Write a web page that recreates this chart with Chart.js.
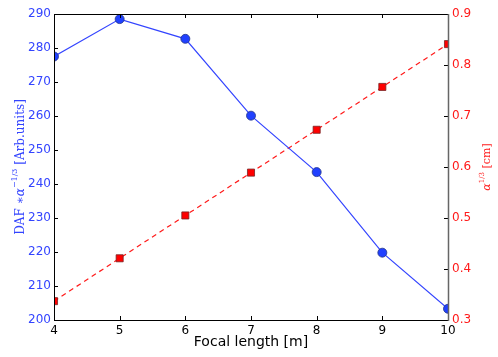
<!DOCTYPE html>
<html>
<head>
<meta charset="utf-8">
<script src="https://cdn.jsdelivr.net/npm/chart.js@4/dist/chart.umd.min.js"></script>
<style>
  html, body { margin: 0; padding: 0; background: #fff; }
  #wrap { width: 498px; height: 357px; }
</style>
</head>
<body>
<div id="wrap"><canvas id="chart" width="498" height="357"></canvas></div>
<script>
// values
const focalLengths = [4, 5, 6, 7, 8, 9, 10];
const dafValues = [277.5, 288.5, 282.7, 260.1, 243.5, 219.8, 203.3];
const alphaValues = [0.337, 0.421, 0.505, 0.589, 0.673, 0.757, 0.841];

const BLUE = "#3344ff";
const RED = "#ff1a1a";

// draws inward ticks, the frame and the axis titles (with superscripts)
const decor = {
  id: "decor",
  afterDraw(chart) {
    const ctx = chart.ctx;
    const a = chart.chartArea;
    const sx = chart.scales.x, sy = chart.scales.y, sy1 = chart.scales.y1;
    ctx.save();
    ctx.lineWidth = 1;
    ctx.strokeStyle = "#000";
    sx.ticks.forEach((t) => {
      const x = Math.round(sx.getPixelForValue(t.value)) + 0.5;
      ctx.beginPath();
      ctx.moveTo(x, a.bottom); ctx.lineTo(x, a.bottom - 4);
      ctx.moveTo(x, a.top); ctx.lineTo(x, a.top + 4);
      ctx.stroke();
    });
    sy.ticks.forEach((t) => {
      const y = Math.round(sy.getPixelForValue(t.value)) + 0.5;
      ctx.beginPath();
      ctx.moveTo(a.left, y); ctx.lineTo(a.left + 4, y);
      ctx.stroke();
    });
    sy1.ticks.forEach((t) => {
      const y = Math.round(sy1.getPixelForValue(t.value)) + 0.5;
      ctx.beginPath();
      ctx.moveTo(a.right, y); ctx.lineTo(a.right - 4, y);
      ctx.stroke();
    });
    // frame
    ctx.strokeStyle = "#000";
    ctx.beginPath();
    ctx.moveTo(a.left + 0.5, a.bottom + 0.5);
    ctx.lineTo(a.left + 0.5, a.top + 0.5);
    ctx.lineTo(a.right, a.top + 0.5);
    ctx.moveTo(a.left, a.bottom + 0.5);
    ctx.lineTo(a.right, a.bottom + 0.5);
    ctx.stroke();
    ctx.strokeStyle = "#666";
    ctx.lineWidth = 1.5;
    ctx.beginPath();
    ctx.moveTo(a.right + 0.5, a.top);
    ctx.lineTo(a.right + 0.5, a.bottom + 1);
    ctx.stroke();

    // axis titles
    const midY = (a.top + a.bottom) / 2;
    function drawParts(parts, color) {
      let w = 0;
      parts.forEach((p) => {
        ctx.font = p.font;
        p.w = ctx.measureText(p.text).width;
        w += p.w;
      });
      let x = -w / 2;
      ctx.fillStyle = color;
      ctx.textBaseline = "middle";
      ctx.textAlign = "left";
      parts.forEach((p) => {
        ctx.font = p.font;
        ctx.fillText(p.text, x, p.dy || 0);
        x += p.w;
      });
    }
    const main = "12px 'DejaVu Serif'";
    const ital = "italic 12px 'DejaVu Serif'";
    const sup = "8px 'DejaVu Serif'";
    ctx.save();
    ctx.translate(21, midY);
    ctx.rotate(-Math.PI / 2);
    drawParts([
      { text: "DAF ∗", font: main },
      { text: "α", font: ital },
      { text: "−1/3", font: sup, dy: -6 },
      { text: " [Arb.units]", font: main }
    ], BLUE);
    ctx.restore();

    ctx.save();
    ctx.translate(487, midY);
    ctx.rotate(-Math.PI / 2);
    drawParts([
      { text: "α", font: "italic 11px 'DejaVu Serif'" },
      { text: "1/3", font: "7px 'DejaVu Serif'", dy: -5 },
      { text: " [cm]", font: "11px 'DejaVu Serif'" }
    ], RED);
    ctx.restore();

    ctx.fillStyle = "#000";
    ctx.font = "14px 'DejaVu Sans'";
    ctx.textAlign = "center";
    ctx.textBaseline = "middle";
    ctx.fillText("Focal length [m]", (a.left + a.right) / 2, 342);
    ctx.restore();
  }
};

const ctx = document.getElementById("chart").getContext("2d");
new Chart(ctx, {
  type: "line",
  data: {
    datasets: [
      {
        label: "DAF",
        data: focalLengths.map((f, i) => ({ x: f, y: dafValues[i] })),
        yAxisID: "y",
        borderColor: BLUE,
        borderWidth: 1.2,
        pointStyle: "circle",
        pointRadius: 4.5,
        pointBackgroundColor: "#2040ff",
        pointBorderColor: "#223388",
        pointBorderWidth: 0.8,
        clip: 0
      },
      {
        label: "alpha",
        data: focalLengths.map((f, i) => ({ x: f, y: alphaValues[i] })),
        yAxisID: "y1",
        borderColor: RED,
        borderWidth: 1.2,
        borderDash: [5, 4],
        pointStyle: "rect",
        pointRadius: 5,
        pointBackgroundColor: "#ff0000",
        pointBorderColor: "#772222",
        pointBorderWidth: 0.8,
        clip: 0
      }
    ]
  },
  options: {
    responsive: false,
    animation: false,
    layout: { padding: { top: 14, left: 0, right: 0, bottom: 0 } },
    plugins: { legend: { display: false }, tooltip: { enabled: false } },
    scales: {
      x: {
        type: "linear",
        min: 4,
        max: 10,
        afterFit: (s) => { s.height = 37; },
        grid: { display: false, drawTicks: false },
        border: { display: false },
        ticks: {
          stepSize: 1,
          color: "#000",
          padding: 4,
          font: { family: "'DejaVu Sans'", size: 12 }
        }
      },
      y: {
        position: "left",
        min: 200,
        max: 290,
        afterFit: (s) => { s.width = 54; },
        grid: { display: false, drawTicks: false },
        border: { display: false },
        ticks: {
          stepSize: 10,
          color: BLUE,
          padding: 3,
          font: { family: "'DejaVu Sans'", size: 12 }
        }
      },
      y1: {
        position: "right",
        min: 0.3,
        max: 0.9,
        afterFit: (s) => { s.width = 50; },
        grid: { display: false, drawTicks: false },
        border: { display: false },
        ticks: {
          stepSize: 0.1,
          color: RED,
          padding: 4,
          font: { family: "'DejaVu Sans'", size: 12 },
          callback: (v) => v.toFixed(1)
        }
      }
    }
  },
  plugins: [decor]
});
</script>
</body>
</html>
